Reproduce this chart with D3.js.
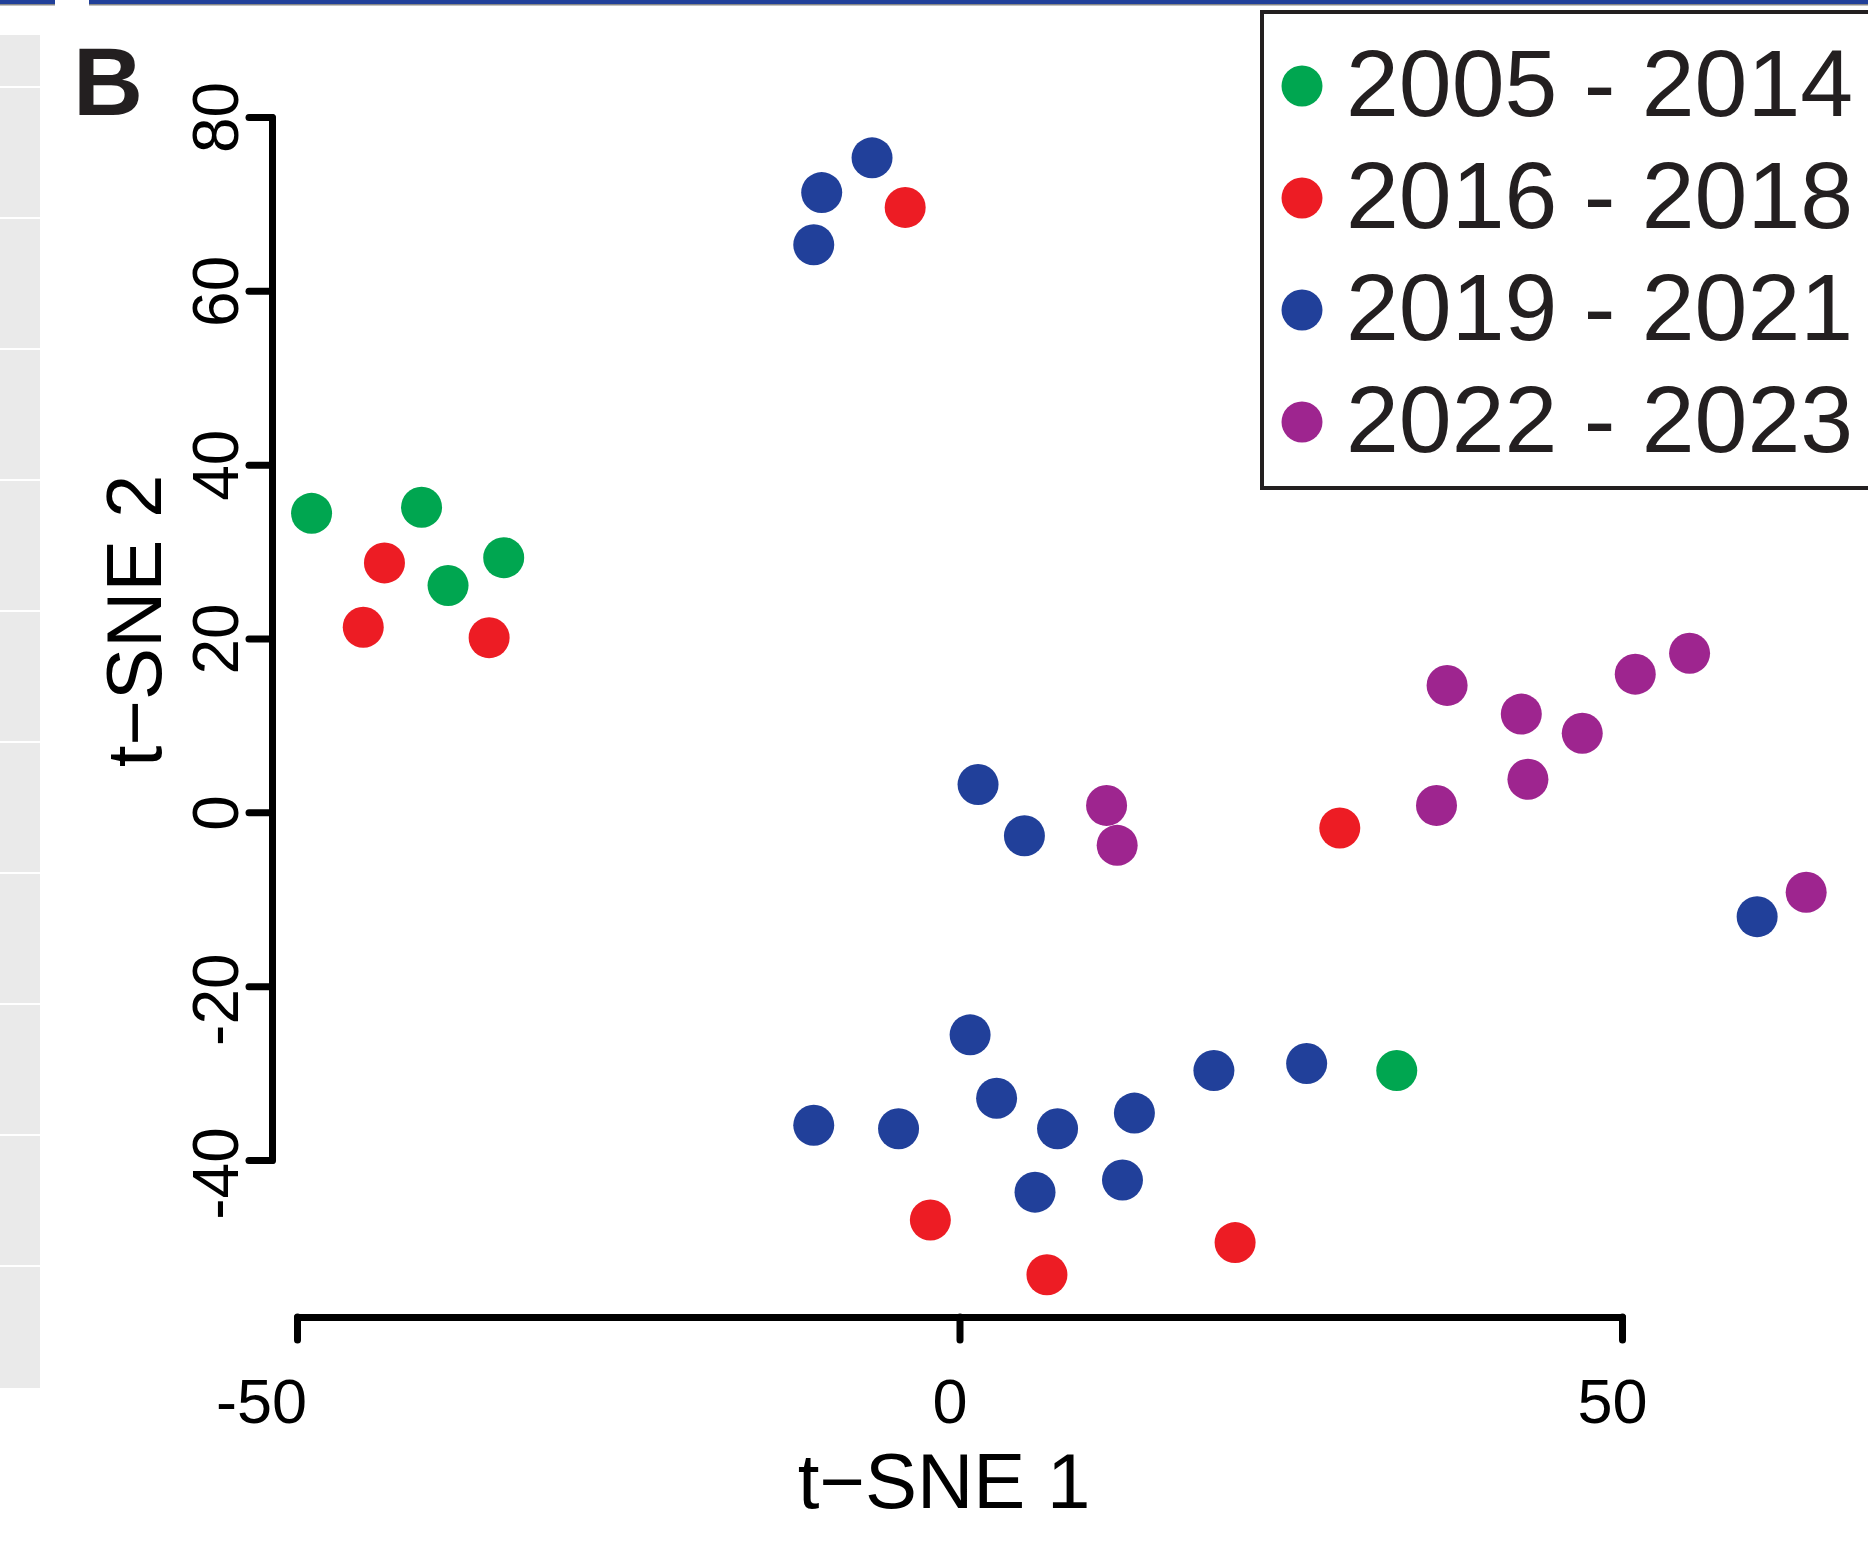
<!DOCTYPE html>
<html>
<head>
<meta charset="utf-8">
<script src="https://cdn.jsdelivr.net/npm/d3@7"></script>
<style>
	body { margin: 0; background: #fff; }
	svg { display: block; font-family: "Liberation Sans", Arial, sans-serif; }
</style>
</head>
<body>
<svg id="canvas"></svg>
<script>
// groups and their t-SNE coordinates
var groups = ["2005 - 2014", "2016 - 2018", "2019 - 2021", "2022 - 2023"];
var groupColors = ["#00a650", "#ed1c24", "#21409a", "#9e258f"];

var green = [[-48.9, 34.4], [-40.6, 35.1], [-38.6, 26.1], [-34.4, 29.3], [33.0, -29.7]];
var red = [[-43.4, 28.7], [-45.0, 21.3], [-35.5, 20.1], [-4.1, 69.6], [28.7, -1.8],
	[-2.2, -46.9], [6.6, -53.2], [20.8, -49.5]];
var blue = [[-6.6, 75.3], [-10.4, 71.3], [-11.0, 65.3], [1.4, 3.2], [4.9, -2.7],
	[0.8, -25.6], [2.8, -32.9], [-11.0, -36.0], [-4.6, -36.4], [7.4, -36.4],
	[13.2, -34.6], [5.7, -43.7], [12.3, -42.3], [19.2, -29.7], [26.2, -28.9], [60.2, -12.0]];
var purple = [[11.1, 0.8], [11.9, -3.8], [36.8, 14.6], [42.4, 11.3], [47.0, 9.1],
	[42.9, 3.8], [36.0, 0.8], [51.0, 15.9], [55.1, 18.3], [63.9, -9.2]];

var xTicks = [-50, 0, 50];
var yTicks = [-40, -20, 0, 20, 40, 60, 80];

var width = 1868,
	height = 1554;

var svg = d3.select("#canvas")
	.attr("width", width)
	.attr("height", height);

// bits of the neighbouring panels that show at the edges of the crop
svg.append("rect").attr("x", 0).attr("y", 0).attr("width", 55).attr("height", 4).attr("fill", "#21409a");
svg.append("rect").attr("x", 89).attr("y", 0).attr("width", width - 89).attr("height", 4).attr("fill", "#21409a");
svg.append("rect").attr("x", 89).attr("y", 4).attr("width", width - 89).attr("height", 1.5).attr("fill", "#888");
svg.append("rect").attr("x", 0).attr("y", 4).attr("width", 55).attr("height", 1.5).attr("fill", "#888");

for (var i = 0; i < 11; i++) {
	var segTop = i == 0 ? 35 : 86 + (i - 1) * 131 + 2;
	var segBottom = i == 0 ? 86 : (i == 10 ? 1388 : 86 + i * 131);
	svg.append("rect")
		.attr("x", 0)
		.attr("y", segTop)
		.attr("width", 40)
		.attr("height", segBottom - segTop)
		.attr("fill", "#eaeaea");
}

var x = d3.scaleLinear()
	.domain([-50, 50])
	.range([297, 1622]);

var y = d3.scaleLinear()
	.domain([-40, 80])
	.range([1160, 117]);

var color = d3.scaleOrdinal()
	.domain(groups)
	.range(groupColors);

// plain hyphen for negatives, as in the original
var fmt = function(d){ return String(d); };

// axes
var xAxis = svg.append("g")
	.attr("transform", "translate(0,1317)")
	.call(d3.axisBottom(x).tickValues(xTicks).tickFormat(fmt).tickSize(23).tickSizeOuter(0).tickPadding(38));

var yAxis = svg.append("g")
	.attr("transform", "translate(272,0)")
	.call(d3.axisLeft(y).tickValues(yTicks).tickFormat(fmt).tickSize(23).tickSizeOuter(0));

svg.selectAll(".domain, .tick line")
	.attr("stroke", "#000")
	.attr("stroke-width", 7)
	.attr("stroke-linecap", "round")
	.attr("stroke-linejoin", "round");

xAxis.selectAll("text")
	.attr("font-size", 63)
	.attr("font-family", "Liberation Sans, Arial, sans-serif")
	.attr("fill", "#000")
	.attr("dy", "0.71em")
	.attr("dx", function(d){
		return d < 0 ? -36 : -10;
	});

yAxis.selectAll("text")
	.attr("font-size", 64)
	.attr("font-family", "Liberation Sans, Arial, sans-serif")
	.attr("fill", "#000")
	.attr("text-anchor", "middle")
	.attr("transform", "rotate(-90)")
	.attr("x", 0)
	.attr("y", -34)
	.attr("dy", 0)
	.attr("dx", function(d){
		return d < 0 ? -13 : 0;
	});

// axis titles
svg.append("text")
	.attr("x", 944)
	.attr("y", 1508)
	.attr("text-anchor", "middle")
	.attr("font-size", 78)
	.attr("fill", "#000")
	.text("t\u2212SNE 1");

svg.append("text")
	.attr("transform", "translate(161,621) rotate(-90)")
	.attr("text-anchor", "middle")
	.attr("font-size", 78)
	.attr("fill", "#000")
	.text("t\u2212SNE 2");

// panel letter
svg.append("text")
	.attr("x", 73)
	.attr("y", 115)
	.attr("font-size", 97)
	.attr("font-weight", "bold")
	.attr("fill", "#231f20")
	.text("B");

// points
var series = [green, red, blue, purple];
series.forEach(function(pts, k){
	svg.append("g")
		.selectAll("circle")
		.data(pts)
		.enter()
		.append("circle")
		.attr("cx", function(d){ return x(d[0]); })
		.attr("cy", function(d){ return y(d[1]); })
		.attr("r", 20.5)
		.attr("fill", color(groups[k]));
});

// legend
var legend = svg.append("g");

legend.append("rect")
	.attr("x", 1262)
	.attr("y", 12)
	.attr("width", 640)
	.attr("height", 476)
	.attr("fill", "#fff")
	.attr("stroke", "#231f20")
	.attr("stroke-width", 4);

var item = legend.selectAll(".item")
	.data(groups)
	.enter()
	.append("g")
	.attr("transform", function(d, i){
		return "translate(0," + (86 + i * 112) + ")";
	});

item.append("circle")
	.attr("cx", 1302)
	.attr("cy", 0)
	.attr("r", 20.5)
	.attr("fill", function(d){ return color(d); });

item.append("text")
	.attr("x", 1346)
	.attr("y", 30)
	.attr("font-size", 95)
	.attr("fill", "#231f20")
	.text(function(d){ return d; });
</script>
</body>
</html>
